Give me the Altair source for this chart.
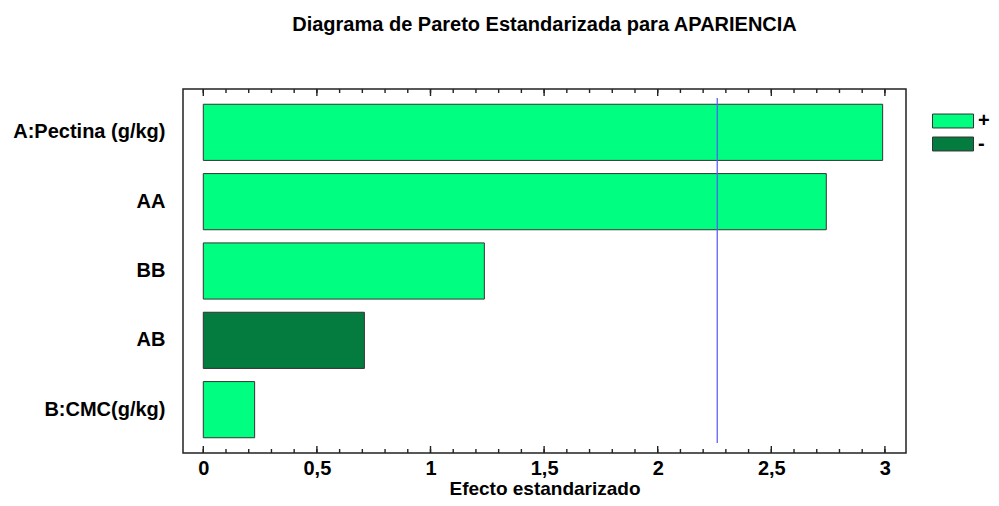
import altair as alt
import pandas as pd

# ---- data ----
factors = ["A:Pectina (g/kg)", "AA", "BB", "AB", "B:CMC(g/kg)"]
effects = [2.990, 2.742, 1.237, 0.709, 0.226]
signs = ["+", "+", "+", "-", "+"]
critical_value = [2.262]
major_ticks = [0, 0.5, 1, 1.5, 2, 2.5, 3]
minor_ticks = [round(i / 10, 1) for i in range(0, 31)]

df = pd.DataFrame({"factor": factors, "effect": effects, "sign": signs})
crit = pd.DataFrame({"v": critical_value})
major_df = pd.DataFrame({"v": major_ticks})
minor_df = pd.DataFrame({"v": minor_ticks})

FONT = "Liberation Sans"
FS = 20
W, H = 723, 364
xdom = [-0.0893, 3.0928]

xscale = alt.Scale(domain=xdom, nice=False, zero=False)

bars = alt.Chart(df).mark_bar(stroke="#333333", strokeWidth=1).encode(
    x=alt.X("effect:Q", scale=xscale,
            axis=alt.Axis(values=major_ticks, ticks=False, domain=False,
                          grid=False, format="~g",
                          labelExpr="replace(datum.label, '.', ',')",
                          labelFont=FONT, labelFontSize=FS,
                          labelFontWeight="bold", labelColor="black",
                          labelPadding=5,
                          title="Efecto estandarizado", titleFont=FONT,
                          titleFontSize=19, titleFontWeight="bold",
                          titleColor="black", titleBaseline="alphabetic",
                          titleY=41)),
    y=alt.Y("factor:N", sort=factors,
            scale=alt.Scale(paddingInner=0.19, paddingOuter=0.22),
            axis=alt.Axis(title=None, ticks=False, domain=False,
                          labelFont=FONT, labelFontSize=FS,
                          labelFontWeight="bold", labelColor="black",
                          labelPadding=18)),
    color=alt.Color("sign:N",
                    scale=alt.Scale(domain=["+", "-"],
                                    range=["#00FF80", "#047C40"]),
                    legend=alt.Legend(
                        title=None, orient="none", legendX=749, legendY=22,
                        symbolType="M-1,-0.34H1V0.34H-1Z", symbolSize=1681,
                        symbolStrokeColor="#333333", symbolStrokeWidth=1,
                        symbolOpacity=1, clipHeight=20,
                        labelFont=FONT, labelFontSize=FS,
                        labelFontWeight="bold", labelColor="black",
                        labelOffset=4, rowPadding=3, padding=0)),
)


def vrule(data, y, y2, color, width):
    return alt.Chart(data).mark_rule(color=color, strokeWidth=width).encode(
        x=alt.X("v:Q", scale=xscale),
        y=alt.value(y),
        y2=alt.value(y2),
    )


line = vrule(crit, 9, H - 10, "#5555FF", 1.2)

ticks = [
    vrule(minor_df, H - 4, H, "#222222", 1.4),
    vrule(major_df, H - 7, H, "#222222", 1.4),
    vrule(minor_df, 0, 4, "#222222", 1.4),
    vrule(major_df, 0, 7, "#222222", 1.4),
]

chart = alt.layer(bars, line, *ticks).properties(
    width=W, height=H,
    background="white",
    autosize=alt.AutoSizeParams(type="none"),
    padding={"left": 175, "top": 81, "right": 85, "bottom": 45},
    title=alt.Title("Diagrama de Pareto Estandarizada para APARIENCIA",
                    font=FONT, fontSize=FS, fontWeight="bold", color="black",
                    anchor="middle", frame="group", offset=53),
).configure_view(stroke="#222222", strokeWidth=1.5)

chart.save("out.html", embed_options={"renderer": "svg", "actions": False})
